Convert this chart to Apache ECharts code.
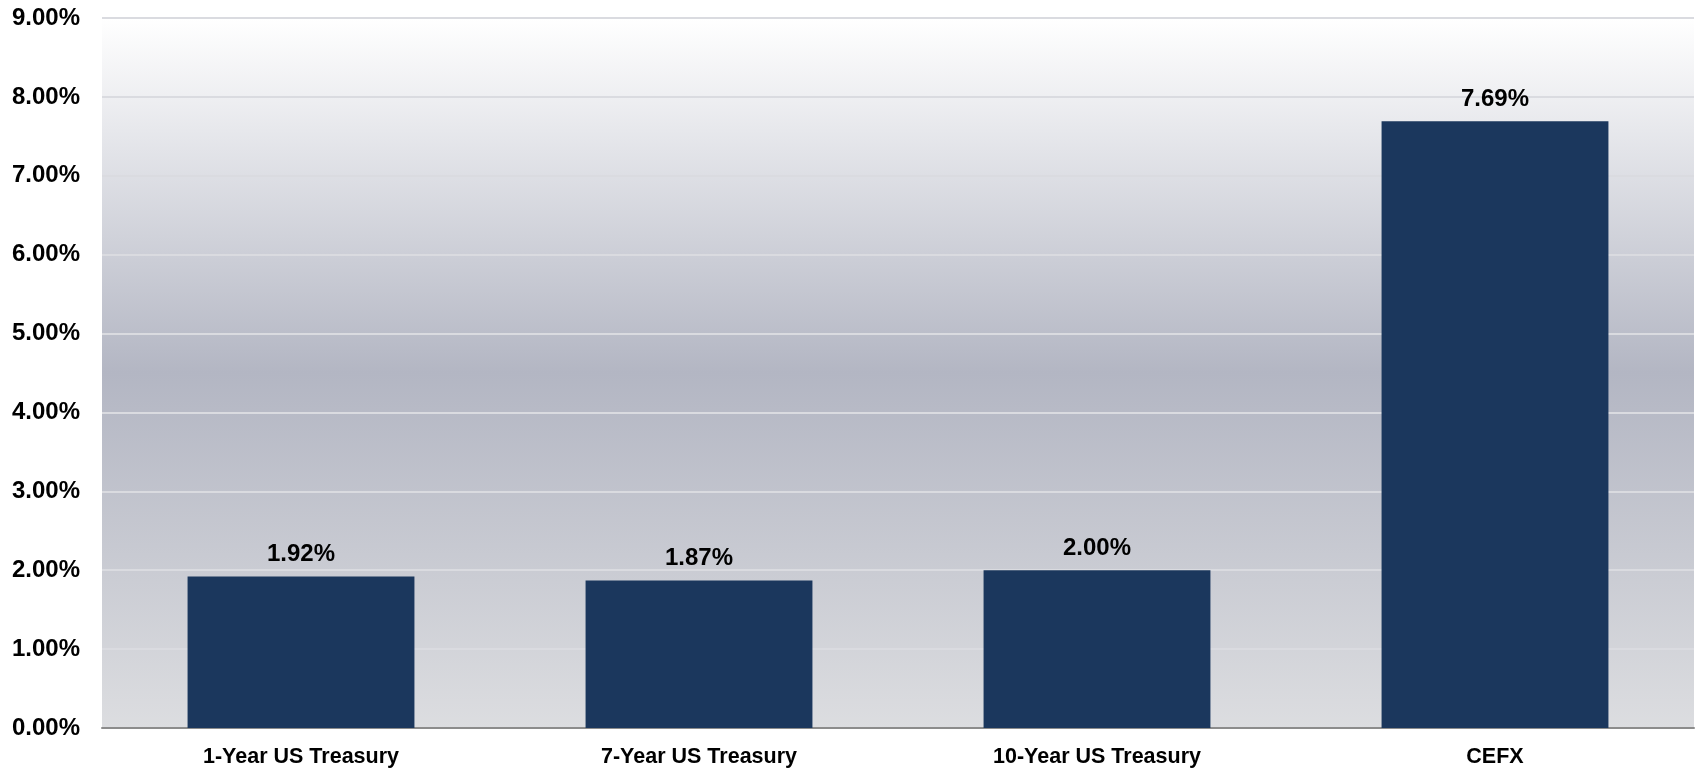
<!DOCTYPE html>
<html>
<head>
<meta charset="utf-8">
<script src="https://cdn.jsdelivr.net/npm/echarts@6/dist/echarts.min.js"></script>
<style>
html,body{margin:0;padding:0;background:#ffffff;}
#chart{width:1697px;height:768px;}
</style>
</head>
<body>
<div id="chart"></div>
<script>
const categories = ['1-Year US Treasury', '7-Year US Treasury', '10-Year US Treasury', 'CEFX'];
const values = [1.92, 1.87, 2.00, 7.69];
const yMin = 0, yMax = 9, yInterval = 1;

const chart = echarts.init(document.getElementById('chart'));
const font = '"Liberation Sans", Arial, sans-serif';
chart.setOption({
  animation: false,
  backgroundColor: '#ffffff',
  grid: {
    left: 102, right: 3, top: 18, bottom: 39,
    show: true, borderWidth: 0,
    backgroundColor: {
      type: 'linear', x: 0, y: 0, x2: 0, y2: 1,
      colorStops: [
        {offset: 0, color: '#ffffff'},
        {offset: 0.5, color: '#b3b6c3'},
        {offset: 1, color: '#dcdde0'}
      ]
    }
  },
  xAxis: {
    type: 'category',
    data: categories,
    axisTick: {show: false},
    axisLine: {lineStyle: {color: '#8c8c8c', width: 2}},
    axisLabel: {color: '#000', fontFamily: font, fontWeight: 'bold', fontSize: 21.5, margin: 18}
  },
  yAxis: {
    type: 'value',
    min: yMin, max: yMax, interval: yInterval,
    axisLine: {show: false},
    axisTick: {show: false},
    splitLine: {lineStyle: {color: '#dadbe0', width: 2}},
    axisLabel: {
      color: '#000', fontFamily: font, fontWeight: 'bold', fontSize: 24, margin: 22,
      formatter: v => v.toFixed(2) + '%'
    }
  },
  series: [{
    type: 'bar',
    data: values,
    barWidth: '57%',
    itemStyle: {color: '#1b375d'},
    label: {
      show: true, position: 'top', distance: 10,
      color: '#000', fontFamily: font, fontWeight: 'bold', fontSize: 24,
      formatter: p => p.value.toFixed(2) + '%'
    }
  }]
});
</script>
</body>
</html>
